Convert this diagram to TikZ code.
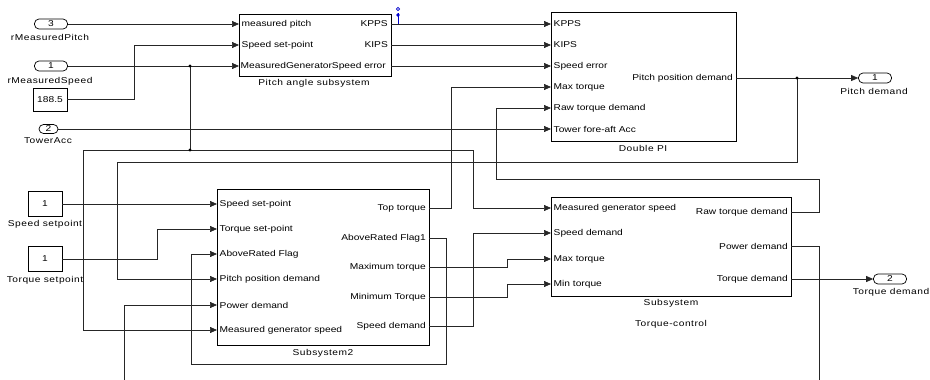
\documentclass[tikz,border=0pt]{standalone}
\usepackage{fontspec}
\setmainfont{Liberation Sans}[FakeStretch=1.2]
\newfontfamily\lblfont{Liberation Sans}[FakeStretch=1.2,LetterSpace=6]
\usetikzlibrary{arrows.meta}
\begin{document}
\begin{tikzpicture}[x=1pt,y=-1pt,
  font=\fontsize{8.5}{10}\selectfont,
  w/.style={line width=0.7pt, draw=black!85},
  a/.style={w, -{Triangle[length=7pt,width=6pt]}},
  blk/.style={draw, line width=0.8pt, fill=white, inner sep=0pt},
  pin/.style={anchor=west, inner sep=2.5pt},
  pout/.style={anchor=east, inner sep=3pt},
  lbl/.style={font=\lblfont\fontsize{8.5}{10}\selectfont, inner sep=0pt},
  inport/.style={draw, line width=0.7pt, rounded corners=4.5pt, minimum width=33pt, minimum height=10pt, inner sep=0pt},
  cbox/.style={draw, line width=0.7pt, minimum width=34pt, inner sep=0pt},
  jdot/.style={fill=black}
]
\useasboundingbox (0,0) rectangle (930,380);

% ---------- sources ----------
\node[inport] (in3) at (51,24) {3};
\node[lbl] (in3l) at (50,37) {rMeasuredPitch};
\node[inport] (in1) at (51,66) {1};
\node[lbl] (in1l) at (50,81) {rMeasuredSpeed};
\node[cbox, minimum height=23pt] (c188) at (50,99.5) {188.5};
\node[inport, minimum width=19pt, minimum height=9pt] (in2) at (48.5,129) {2};
\node[lbl] (in2l) at (48,141) {TowerAcc};
\node[cbox, minimum height=25pt] (sp) at (45,204) {1};
\node[lbl] (spl) at (45,224) {Speed setpoint};
\node[cbox, minimum height=25pt] (tq) at (45,259) {1};
\node[lbl] (tql) at (45,280) {Torque setpoint};

% ---------- sinks ----------
\node[inport] (out1) at (875,78) {1};
\node[lbl] (out1l) at (874,91) {Pitch demand};
\node[inport] (out2) at (890,279) {2};
\node[lbl] (out2l) at (891,292) {Torque demand};

% ---------- Pitch angle subsystem ----------
\node[blk, minimum width=152pt, minimum height=62pt] (pas) at (315,45) {};
\node[lbl] (pasl) at (314,83) {Pitch angle subsystem};
\node[pin] (pas-i1) at (239,24) {measured pitch};
\node[pin] (pas-i2) at (239,45) {Speed set-point};
\node[pin, inner sep=1.5pt] (pas-i3) at (239,66) {MeasuredGeneratorSpeed error};
\node[pout] (pas-o1) at (391,24) {KPPS};
\node[pout] (pas-o2) at (391,45) {KIPS};
\node[pout, inner sep=0pt] (pas-o3) at (391,66) {};

% ---------- Double PI ----------
\node[blk, minimum width=185pt, minimum height=129pt] (dpi) at (643.5,76.5) {};
\node[lbl] (dpil) at (643,148) {Double PI};
\node[pin] (dpi-i1) at (551,24) {KPPS};
\node[pin] (dpi-i2) at (551,45) {KIPS};
\node[pin] (dpi-i3) at (551,66) {Speed error};
\node[pin] (dpi-i4) at (551,87) {Max torque};
\node[pin] (dpi-i5) at (551,108) {Raw torque demand};
\node[pin] (dpi-i6) at (551,129) {Tower fore-aft Acc};
\node[pout] (dpi-o1) at (736,78) {Pitch position demand};

% ---------- Subsystem2 ----------
\node[blk, minimum width=212pt, minimum height=156pt] (ss2) at (323,267) {};
\node[lbl] (ss2l) at (323,353) {Subsystem2};
\node[pin] (ss2-i1) at (217,204) {Speed set-point};
\node[pin] (ss2-i2) at (217,229) {Torque set-point};
\node[pin] (ss2-i3) at (217,254) {AboveRated Flag};
\node[pin] (ss2-i4) at (217,279) {Pitch position demand};
\node[pin] (ss2-i5) at (217,305) {Power demand};
\node[pin] (ss2-i6) at (217,330) {Measured generator speed};
\node[pout] (ss2-o1) at (429,208) {Top torque};
\node[pout] (ss2-o2) at (429,238) {AboveRated Flag1};
\node[pout] (ss2-o3) at (429,267) {Maximum torque};
\node[pout] (ss2-o4) at (429,297) {Minimum Torque};
\node[pout] (ss2-o5) at (429,326) {Speed demand};

% ---------- Torque-control subsystem ----------
\node[blk, minimum width=240pt, minimum height=99pt] (tc) at (671,246.5) {};
\node[lbl] (tcl) at (671,303) {Subsystem};
\node[lbl] (tcl2) at (671,324) {Torque-control};
\node[pin] (tc-i1) at (551,208) {Measured generator speed};
\node[pin] (tc-i2) at (551,233) {Speed demand};
\node[pin] (tc-i3) at (551,259) {Max torque};
\node[pin] (tc-i4) at (551,284) {Min torque};
\node[pout] (tc-o1) at (791,212) {Raw torque demand};
\node[pout] (tc-o2) at (791,246) {Power demand};
\node[pout] (tc-o3) at (791,279) {Torque demand};

% ---------- junctions and free ends ----------
\coordinate (j1) at (190,66);
\coordinate (j2) at (190,150);
\coordinate (j3) at (797,78);
\coordinate (pwrsrc) at (124,380);
\coordinate (pwrend) at (819,380);

% ---------- connectors ----------
\draw[a] (in3.east) -- (pas-i1.west);
\draw[a] (c188.east) -- (134,99.5) -- (134,45) -- (pas-i2.west);
\draw[a] (in1.east) -- (pas-i3.west);
\draw[w] (j1) -- (j2);
\draw[a] (j2) -- (83,150) -- (83,330) -- (ss2-i6.west);
\draw[a] (j2) -- (473,150) -- (473,208) -- (tc-i1.west);
\draw[a] (in2.east) -- (dpi-i6.west);

\draw[a] (pas-o1.east) -- (dpi-i1.west);
\draw[a] (pas-o2.east) -- (dpi-i2.west);
\draw[a] (pas-o3.east) -- (dpi-i3.west);

\draw[a] (dpi-o1.east) -- (out1.west);
\draw[a] (j3) -- (797,162) -- (117,162) -- (117,279) -- (ss2-i4.west);

\draw[a] (ss2-o1.east) -- (451,208) -- (451,87) -- (dpi-i4.west);
\draw[a] (tc-o1.east) -- (819,212) -- (819,179) -- (496,179) -- (496,108) -- (dpi-i5.west);

\draw[a] (sp.east) -- (ss2-i1.west);
\draw[a] (tq.east) -- (157,259) -- (157,229) -- (ss2-i2.west);
\draw[a] (ss2-o2.east) -- (446,238) -- (446,364) -- (191,364) -- (191,254) -- (ss2-i3.west);
\draw[a] (pwrsrc) -- (124,305) -- (ss2-i5.west);

\draw[a] (ss2-o3.east) -- (507,267) -- (507,259) -- (tc-i3.west);
\draw[a] (ss2-o4.east) -- (507,297) -- (507,284) -- (tc-i4.west);
\draw[a] (ss2-o5.east) -- (473,326) -- (473,233) -- (tc-i2.west);

\draw[w] (tc-o2.east) -- (819,246) -- (pwrend);
\draw[a] (tc-o3.east) -- (out2.west);

% junction dots
\fill[jdot] (j1) circle (1.6pt);
\fill[jdot] (j2) circle (1.6pt);
\fill[jdot] (j3) circle (1.6pt);

% test point marker
\coordinate (tp) at (398,24);
\draw[blue!80!black, line width=0.8pt] (tp) -- (398,13);
\fill[blue!80!black] (398,15) circle (1.8pt);
\draw[blue!80!black, line width=0.6pt] (398,9) circle (1.6pt);
\end{tikzpicture}
\end{document}
